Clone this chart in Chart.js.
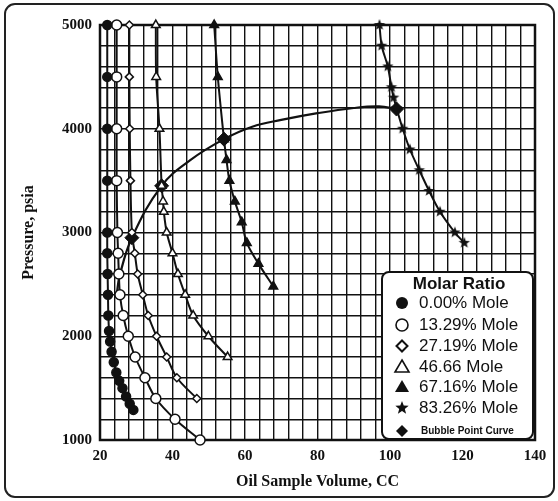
<!DOCTYPE html>
<html>
<head>
<meta charset="utf-8">
<script src="https://cdn.jsdelivr.net/npm/chart.js@4.4.1/dist/chart.umd.min.js"></script>
<style>
  html, body { margin: 0; padding: 0; background: #fff; }
  #wrap { width: 558px; height: 501px; position: relative; }
</style>
</head>
<body>
<div id="wrap"><canvas id="myChart" width="558" height="501"></canvas></div>
<script>
// data: oil sample volume (cc) vs pressure (psia)
const vol00 = [22, 22, 22, 22, 22, 22, 22.1, 22.2, 22.3, 22.5, 22.8, 23.2, 23.8, 24.5, 25.3, 26.2, 27.2, 28.2, 29.2];
const pr00  = [5000, 4500, 4000, 3500, 3000, 2800, 2600, 2400, 2200, 2050, 1950, 1850, 1750, 1650, 1570, 1500, 1420, 1350, 1290];

const vol13 = [24.6, 24.6, 24.6, 24.6, 24.8, 25, 25.2, 25.5, 26.4, 27.8, 29.7, 32.4, 35.4, 40.7, 47.6];
const pr13  = [5000, 4500, 4000, 3500, 3000, 2800, 2600, 2400, 2200, 2000, 1800, 1600, 1400, 1200, 1000];

const vol27 = [28.1, 28.1, 28.2, 28.4, 28.8, 29.6, 30.4, 31.8, 33.3, 35.6, 38.4, 41.2, 46.7];
const pr27  = [5000, 4500, 4000, 3500, 3000, 2800, 2600, 2400, 2200, 2000, 1800, 1600, 1400];

const vol46 = [35.4, 35.5, 36.4, 37, 37.4, 37.6, 38.4, 40, 41.5, 43.5, 45.7, 49.9, 55.2];
const pr46  = [5000, 4500, 4000, 3450, 3300, 3200, 3000, 2800, 2600, 2400, 2200, 2000, 1800];

const vol67 = [51.5, 52.5, 54.2, 54.9, 55.7, 57.2, 59.1, 60.5, 63.7, 67.8];
const pr67  = [5000, 4500, 3900, 3700, 3500, 3300, 3100, 2900, 2700, 2480];

const vol83 = [97.1, 97.7, 99.4, 100.4, 101, 101.8, 103.5, 105.5, 108.1, 110.8, 113.8, 117.9, 120.5];
const pr83  = [5000, 4800, 4600, 4400, 4300, 4200, 4000, 3800, 3600, 3400, 3200, 3000, 2900];

// bubble point curve, marked where it crosses a series
const volBP = [24.6, 25.4, 28.8, 37, 45, 54.2, 62, 70, 80, 90, 97, 101.8];
const prBP  = [2400, 2580, 2950, 3450, 3700, 3900, 4020, 4085, 4150, 4200, 4215, 4190];
const markBP = [0, 0, 1, 1, 0, 1, 0, 0, 0, 0, 0, 1];

const seriesNames = ['0.00% Mole', '13.29% Mole', '27.19% Mole', '46.66 Mole', '67.16% Mole', '83.26% Mole', 'Bubble Point Curve'];

const ink = '#111';

function pts(xs, ys) {
  return xs.map((x, i) => ({x: x, y: ys[i]}));
}

// filled star for the 83.26% series
function makeStar(r) {
  const c = document.createElement('canvas');
  c.width = c.height = r * 2 + 2;
  const g = c.getContext('2d');
  g.fillStyle = ink;
  g.beginPath();
  for (let i = 0; i < 10; i++) {
    const rad = i % 2 === 0 ? r : r * 0.42;
    const a = -Math.PI / 2 + i * Math.PI / 5;
    const px = r + 1 + rad * Math.cos(a), py = r + 1 + rad * Math.sin(a);
    if (i === 0) g.moveTo(px, py); else g.lineTo(px, py);
  }
  g.closePath();
  g.fill();
  return c;
}
const starImg = makeStar(6);
const starLegend = makeStar(7);

function lineSet(label, data, style, fill, radius) {
  return {
    label: label,
    data: data,
    showLine: true,
    clip: 10,
    borderColor: ink,
    borderWidth: 2,
    tension: 0.3,
    pointStyle: style,
    pointRadius: radius,
    pointBackgroundColor: fill,
    pointBorderColor: ink,
    pointBorderWidth: 1.5
  };
}

const datasets = [
  lineSet(seriesNames[0], pts(vol00, pr00), 'circle', ink, 4.5),
  lineSet(seriesNames[1], pts(vol13, pr13), 'circle', '#fff', 5),
  lineSet(seriesNames[2], pts(vol27, pr27), 'rectRot', '#fff', 4),
  lineSet(seriesNames[3], pts(vol46, pr46), 'triangle', '#fff', 5),
  lineSet(seriesNames[4], pts(vol67, pr67), 'triangle', ink, 5),
  lineSet(seriesNames[5], pts(vol83, pr83), starImg, ink, 6),
  {
    label: seriesNames[6],
    data: pts(volBP, prBP),
    showLine: true,
    borderColor: ink,
    borderWidth: 2.2,
    tension: 0.4,
    pointStyle: 'rectRot',
    pointRadius: markBP.map(m => m ? 7 : 0),
    pointBackgroundColor: ink,
    pointBorderColor: ink,
    pointBorderWidth: 1
  }
];

// frame round the page and the heavy border of the plot
const framePlugin = {
  id: 'frame',
  beforeDraw(chart) {
    const ctx = chart.ctx;
    ctx.save();
    ctx.fillStyle = '#fff';
    ctx.fillRect(0, 0, chart.width, chart.height);
    ctx.strokeStyle = '#222';
    ctx.lineWidth = 2;
    ctx.beginPath();
    ctx.roundRect(5, 4, 549, 493, 10);
    ctx.stroke();
    ctx.restore();
  },
  beforeDatasetsDraw(chart) {
    const a = chart.chartArea;
    const ctx = chart.ctx;
    ctx.save();
    ctx.strokeStyle = ink;
    ctx.lineWidth = 2.5;
    ctx.strokeRect(a.left, a.top, a.right - a.left, a.bottom - a.top);
    ctx.restore();
  }
};

function drawSymbol(ctx, i, x, y) {
  ctx.save();
  ctx.strokeStyle = ink;
  ctx.fillStyle = ink;
  ctx.lineWidth = 1.6;
  ctx.beginPath();
  if (i === 0 || i === 1) {
    ctx.arc(x, y, 6, 0, Math.PI * 2);
    if (i === 0) ctx.fill(); else ctx.stroke();
  } else if (i === 2 || i === 6) {
    const r = i === 2 ? 5.5 : 6;
    ctx.moveTo(x, y - r); ctx.lineTo(x + r, y); ctx.lineTo(x, y + r); ctx.lineTo(x - r, y); ctx.closePath();
    if (i === 6) ctx.fill(); else { ctx.lineWidth = 2; ctx.stroke(); }
  } else if (i === 3 || i === 4) {
    ctx.moveTo(x, y - 7); ctx.lineTo(x + 7, y + 5); ctx.lineTo(x - 7, y + 5); ctx.closePath();
    if (i === 4) ctx.fill(); else ctx.stroke();
  } else if (i === 5) {
    ctx.drawImage(starLegend, x - 8, y - 8);
  }
  ctx.restore();
}

// legend box sitting inside the plot, bottom right
const boxLegend = {
  id: 'boxLegend',
  afterDraw(chart) {
    const ctx = chart.ctx;
    const a = chart.chartArea;
    const bx = a.right - 153, by = 272, bw = 151, bh = a.bottom - by - 1;
    ctx.save();
    ctx.fillStyle = '#fff';
    ctx.strokeStyle = ink;
    ctx.lineWidth = 2;
    ctx.beginPath();
    ctx.roundRect(bx, by, bw, bh, 7);
    ctx.fill();
    ctx.stroke();
    ctx.fillStyle = ink;
    ctx.textBaseline = 'middle';
    ctx.textAlign = 'center';
    ctx.font = 'bold 17px "Liberation Sans", Arial, sans-serif';
    ctx.fillText('Molar Ratio', bx + 77, by + 12);
    ctx.textAlign = 'left';
    const rows = [303, 325, 346, 367, 387, 408, 431];
    chart.data.datasets.forEach((ds, i) => {
      drawSymbol(ctx, i, bx + 20, rows[i]);
      ctx.fillStyle = ink;
      if (i === 6) {
        ctx.font = 'bold 10px "Liberation Sans", Arial, sans-serif';
        ctx.fillText(ds.label, bx + 39, rows[i]);
      } else {
        ctx.font = '17px "Liberation Sans", Arial, sans-serif';
        ctx.fillText(ds.label, bx + 37, rows[i]);
      }
    });
    ctx.restore();
  }
};

const serif = '"Liberation Serif", "Times New Roman", serif';

const config = {
  type: 'scatter',
  data: { datasets: datasets },
  options: {
    responsive: false,
    animation: false,
    layout: { padding: { left: 0, top: 25, right: 23, bottom: 0 } },
    plugins: {
      legend: { display: false },
      tooltip: { enabled: false }
    },
    scales: {
      x: {
        type: 'linear',
        min: 20,
        max: 140,
        afterFit(scale) { scale.height = 61; },
        ticks: {
          stepSize: 4,
          autoSkip: false,
          maxRotation: 0,
          padding: 7,
          color: ink,
          font: { family: serif, size: 15, weight: 'bold' },
          callback: v => (v % 20 === 0 ? v : '')
        },
        grid: { color: ink, lineWidth: 1.4, drawTicks: false },
        border: { display: false },
        title: {
          display: true,
          text: 'Oil Sample Volume, CC',
          color: ink,
          font: { family: serif, size: 16, weight: 'bold' },
          padding: { top: 0, bottom: 10 }
        }
      },
      y: {
        type: 'linear',
        min: 1000,
        max: 5000,
        afterFit(scale) { scale.width = 100; },
        ticks: {
          stepSize: 200,
          autoSkip: false,
          padding: 8,
          color: ink,
          font: { family: serif, size: 15, weight: 'bold' },
          callback: v => (v % 1000 === 0 ? v : '')
        },
        grid: { color: ink, lineWidth: 1.4, drawTicks: false },
        border: { display: false },
        title: {
          display: true,
          text: 'Pressure, psia',
          color: ink,
          font: { family: serif, size: 16, weight: 'bold' },
          padding: { top: 19, bottom: 0 }
        }
      }
    }
  },
  plugins: [framePlugin, boxLegend]
};

const ctx = document.getElementById('myChart').getContext('2d');
const myChart = new Chart(ctx, config);
</script>
</body>
</html>
